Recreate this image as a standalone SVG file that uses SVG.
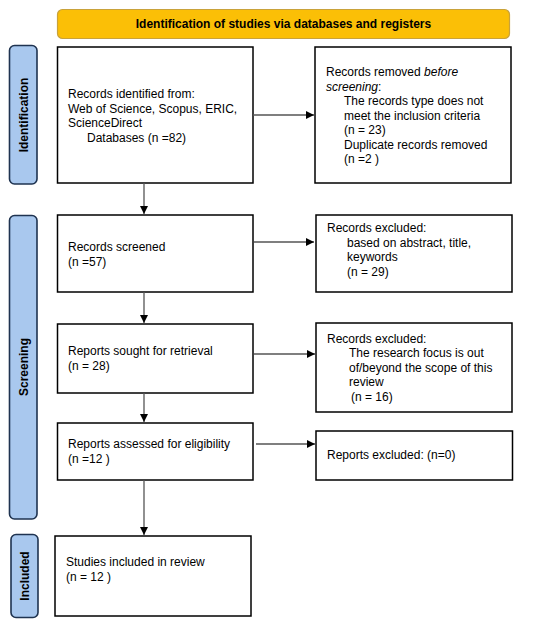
<svg xmlns="http://www.w3.org/2000/svg" width="550" height="628" viewBox="0 0 550 628">
<defs>
<marker id="ah" viewBox="0 0 10 10" refX="10" refY="5" markerWidth="8" markerHeight="8" markerUnits="userSpaceOnUse" orient="auto">
<path d="M0,0 L10,5 L0,10 z" fill="#000"/>
</marker>
<style>
.box{fill:#fff;stroke:#000;stroke-width:1.5}
.side{fill:#a9c8ee;stroke:#1f3350;stroke-width:1.6}
.t{font-family:"Liberation Sans",Arial,sans-serif;font-size:12px;fill:#000}
.b{font-family:"Liberation Sans",Arial,sans-serif;font-size:12px;font-weight:bold;fill:#000}
.c{fill:none;stroke:#555;stroke-width:1.3;marker-end:url(#ah)}
</style>
</defs>
<rect width="550" height="628" fill="#fff"/>
<g id="banner">
<rect x="57.5" y="9.5" width="452" height="29" rx="5" fill="#fbbf06" stroke="#c9a23a" stroke-width="1.2"/>
<text class="b" x="283.5" y="28" text-anchor="middle">Identification of studies via databases and registers</text>
</g>
<g id="side-identification">
<rect class="side" x="9.5" y="45.5" width="27.5" height="138.5" rx="5"/>
<text class="b" transform="translate(27.5,115) rotate(-90)" text-anchor="middle">Identification</text>
</g>
<g id="side-screening">
<rect class="side" x="9.5" y="215.5" width="27.5" height="303.5" rx="5"/>
<text class="b" transform="translate(27.5,367) rotate(-90)" text-anchor="middle">Screening</text>
</g>
<g id="side-included">
<rect class="side" x="11" y="534.5" width="27" height="83" rx="5"/>
<text class="b" transform="translate(29,576) rotate(-90)" text-anchor="middle">Included</text>
</g>
<g id="records-identified">
<rect class="box" x="57.5" y="47" width="195.5" height="136"/>
<text class="t"><tspan x="68" y="98">Records identified from:</tspan><tspan x="68" y="112.5">Web of Science, Scopus, ERIC,</tspan><tspan x="68" y="127">ScienceDirect</tspan><tspan x="87" y="141.5">Databases (n =82)</tspan></text>
</g>
<g id="records-removed">
<rect class="box" x="315" y="47" width="196" height="136"/>
<text class="t"><tspan x="326" y="76">Records removed <tspan font-style="italic">before</tspan></tspan><tspan x="326" y="90.5"><tspan font-style="italic">screening</tspan>:</tspan><tspan x="344" y="105">The records type does not</tspan><tspan x="344" y="119.5">meet the inclusion criteria</tspan><tspan x="344" y="134">(n = 23)</tspan><tspan x="344" y="148.5">Duplicate records removed</tspan><tspan x="344" y="163">(n =2 )</tspan></text>
</g>
<g id="records-screened">
<rect class="box" x="57.5" y="215" width="195.5" height="77"/>
<text class="t"><tspan x="68" y="251">Records screened</tspan><tspan x="68" y="265.5">(n =57)</tspan></text>
</g>
<g id="records-excluded-1">
<rect class="box" x="316" y="215" width="196" height="77"/>
<text class="t"><tspan x="327" y="232">Records excluded:</tspan><tspan x="347" y="246.5">based on abstract, title,</tspan><tspan x="347" y="261">keywords</tspan><tspan x="347" y="275.5">(n = 29)</tspan></text>
</g>
<g id="reports-sought">
<rect class="box" x="57.5" y="324" width="195.5" height="69"/>
<text class="t"><tspan x="68" y="355">Reports sought for retrieval</tspan><tspan x="68" y="369.5">(n = 28)</tspan></text>
</g>
<g id="records-excluded-2">
<rect class="box" x="316" y="323" width="196" height="89"/>
<text class="t"><tspan x="327" y="342.5">Records excluded:</tspan><tspan x="349" y="357">The research focus is out</tspan><tspan x="349" y="371.5">of/beyond the scope of this</tspan><tspan x="349" y="386">review</tspan><tspan x="351" y="400.5">(n = 16)</tspan></text>
</g>
<g id="reports-assessed">
<rect class="box" x="57.5" y="423" width="195.5" height="57"/>
<text class="t"><tspan x="68" y="448">Reports assessed for eligibility</tspan><tspan x="68" y="462.5">(n =12 )</tspan></text>
</g>
<g id="reports-excluded">
<rect class="box" x="316" y="431" width="196.5" height="49"/>
<text class="t"><tspan x="327" y="459">Reports excluded: (n=0)</tspan></text>
</g>
<g id="studies-included">
<rect class="box" x="55" y="536" width="196" height="80"/>
<text class="t"><tspan x="66" y="566">Studies included in review</tspan><tspan x="66" y="580.5">(n = 12 )</tspan></text>
</g>
<g id="connectors">
<line class="c" x1="253" y1="115" x2="314" y2="115"/>
<line class="c" x1="144" y1="183" x2="144" y2="214"/>
<line class="c" x1="254" y1="242" x2="314" y2="242"/>
<line class="c" x1="144" y1="292" x2="144" y2="323"/>
<line class="c" x1="254" y1="354" x2="315" y2="354"/>
<line class="c" x1="144" y1="393" x2="144" y2="422"/>
<line class="c" x1="256" y1="444" x2="315" y2="444"/>
<line class="c" x1="144" y1="480" x2="144" y2="535"/>
</g>
</svg>
